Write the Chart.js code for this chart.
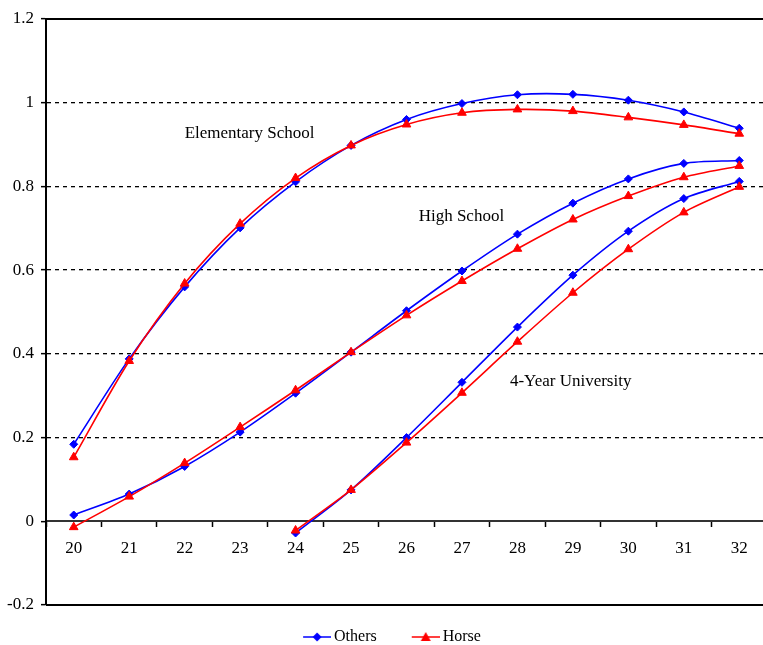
<!DOCTYPE html>
<html>
<head>
<meta charset="utf-8">
<script src="https://cdn.jsdelivr.net/npm/chart.js@4.4.1/dist/chart.umd.min.js"></script>
<style>
html, body { margin: 0; padding: 0; background: #fff; overflow: hidden; }
</style>
</head>
<body>
<canvas id="eduChart" width="773" height="645"></canvas>
<script>
// ages on the x axis
var ages = ['20', '21', '22', '23', '24', '25', '26', '27', '28', '29', '30', '31', '32'];

// Elementary School
var othersElementary = [0.184, 0.388, 0.560, 0.701, 0.811, 0.898, 0.960, 0.998, 1.019, 1.020, 1.006, 0.978, 0.939];
var horseElementary  = [0.153, 0.383, 0.568, 0.711, 0.820, 0.898, 0.948, 0.976, 0.984, 0.980, 0.965, 0.947, 0.926];

// High School
var othersHigh = [0.015, 0.065, 0.131, 0.213, 0.306, 0.404, 0.503, 0.598, 0.686, 0.760, 0.818, 0.855, 0.862];
var horseHigh  = [-0.014, 0.059, 0.139, 0.225, 0.313, 0.404, 0.492, 0.574, 0.651, 0.721, 0.777, 0.822, 0.849];

// 4-Year University (starts at 24)
var othersUniv = [null, null, null, null, -0.028, 0.075, 0.200, 0.332, 0.464, 0.588, 0.693, 0.771, 0.812];
var horseUniv  = [null, null, null, null, -0.022, 0.075, 0.188, 0.307, 0.429, 0.546, 0.650, 0.738, 0.799];

var seriesNames = ['Others', 'Horse'];
var groupLabels = ['Elementary School', 'High School', '4-Year University'];

var BLUE = '#0000ff';
var RED = '#ff0000';
var FONT = "'Liberation Serif', 'Times New Roman', serif";

function makeSeries(name, values, color, style, radius) {
    return {
        label: name,
        data: values,
        borderColor: color,
        backgroundColor: color,
        borderWidth: 1.6,
        pointStyle: style,
        pointRadius: radius,
        pointBorderWidth: 1,
        pointBackgroundColor: color,
        pointBorderColor: color,
        tension: 0.3,
        spanGaps: false,
        order: name === 'Horse' ? 0 : 1
    };
}

// legend icon: short line with the marker on it, right part of a wider image
function legendIcon(color, marker, boxW) {
    var c = document.createElement('canvas');
    c.width = boxW + 10;
    c.height = 12;
    var g = c.getContext('2d');
    var x0 = boxW - 18, x1 = boxW + 10, cx = (x0 + x1) / 2, cy = 6;
    g.strokeStyle = color;
    g.fillStyle = color;
    g.lineWidth = 1.5;
    g.beginPath();
    g.moveTo(x0, cy);
    g.lineTo(x1, cy);
    g.stroke();
    g.beginPath();
    if (marker === 'diamond') {
        g.moveTo(cx, cy - 4.5); g.lineTo(cx + 4.5, cy); g.lineTo(cx, cy + 4.5); g.lineTo(cx - 4.5, cy);
    } else {
        g.moveTo(cx, cy - 5); g.lineTo(cx + 5, cy + 4); g.lineTo(cx - 5, cy + 4);
    }
    g.closePath();
    g.fill();
    return c;
}

var ICON_W = 34;
var icons = [legendIcon(BLUE, 'diamond', ICON_W), legendIcon(RED, 'triangle', ICON_W)];

// frame lines at top and bottom of the plot area
var framePlugin = {
    id: 'frame',
    afterDraw: function(chart) {
        var a = chart.chartArea, ctx = chart.ctx;
        ctx.save();
        ctx.strokeStyle = '#000';
        ctx.lineWidth = 2;
        ctx.beginPath();
        ctx.moveTo(a.left, a.top); ctx.lineTo(a.right, a.top);
        ctx.moveTo(a.left, a.bottom); ctx.lineTo(a.right, a.bottom);
        ctx.stroke();
        ctx.restore();
    }
};

// group names written inside the plot, placed in data units
var groupTextPlugin = {
    id: 'groupText',
    afterDatasetsDraw: function(chart) {
        var xs = chart.scales.x, ys = chart.scales.y, ctx = chart.ctx;
        var spots = [[3.17, 0.926], [6.99, 0.729], [8.96, 0.333]];
        ctx.save();
        ctx.font = '17px ' + FONT;
        ctx.fillStyle = '#000';
        ctx.textAlign = 'center';
        ctx.textBaseline = 'middle';
        groupLabels.forEach(function(t, i) {
            ctx.fillText(t, xs.getPixelForValue(spots[i][0]), ys.getPixelForValue(spots[i][1]));
        });
        ctx.restore();
    }
};

var ctx = document.getElementById('eduChart').getContext('2d');
var eduChart = new Chart(ctx, {
    type: 'line',
    data: {
        labels: ages,
        datasets: [
            makeSeries('Others', othersElementary, BLUE, 'rectRot', 4),
            makeSeries('Horse', horseElementary, RED, 'triangle', 5),
            makeSeries('Others', othersHigh, BLUE, 'rectRot', 4),
            makeSeries('Horse', horseHigh, RED, 'triangle', 5),
            makeSeries('Others', othersUniv, BLUE, 'rectRot', 4),
            makeSeries('Horse', horseUniv, RED, 'triangle', 5)
        ]
    },
    options: {
        responsive: false,
        animation: false,
        layout: { padding: { top: 19, right: 0, bottom: -10, left: 0 } },
        scales: {
            x: {
                position: { y: 0 },
                offset: true,
                grid: {
                    offset: true,
                    drawOnChartArea: false,
                    drawTicks: true,
                    tickLength: 5,
                    tickColor: '#000',
                    tickWidth: 1.5
                },
                border: { display: true, color: '#333', width: 2 },
                ticks: {
                    color: '#000',
                    font: { family: FONT, size: 17 },
                    padding: 12,
                    maxRotation: 0,
                    autoSkip: false
                },
                afterFit: function(scale) { scale.height = 0; }
            },
            y: {
                min: -0.2,
                max: 1.2,
                grid: {
                    color: function(c) {
                        var v = c.tick ? Math.round(c.tick.value * 10) / 10 : null;
                        return (v === -0.2 || v === 0 || v === 1.2) ? 'rgba(0,0,0,0)' : '#000';
                    },
                    lineWidth: 1.3,
                    drawTicks: true,
                    tickLength: 5,
                    tickColor: '#000',
                    tickWidth: 1.5
                },
                border: { display: true, color: '#000', width: 2, dash: [4, 4] },
                ticks: {
                    stepSize: 0.2,
                    color: '#000',
                    padding: 7,
                    font: { family: FONT, size: 17 },
                    callback: function(v) { return String(Math.round(v * 10) / 10); }
                },
                afterFit: function(scale) { scale.width = 46; }
            }
        },
        plugins: {
            legend: {
                position: 'bottom',
                labels: {
                    usePointStyle: true,
                    pointStyleWidth: ICON_W,
                    padding: 24,
                    color: '#000',
                    font: { family: FONT, size: 16 },
                    generateLabels: function() {
                        return seriesNames.map(function(n, i) {
                            return {
                                text: n,
                                pointStyle: icons[i],
                                fillStyle: 'rgba(0,0,0,0)',
                                strokeStyle: 'rgba(0,0,0,0)',
                                lineWidth: 0,
                                hidden: false,
                                datasetIndex: i
                            };
                        });
                    }
                }
            },
            tooltip: { enabled: false }
        }
    },
    plugins: [framePlugin, groupTextPlugin]
});
</script>
</body>
</html>
